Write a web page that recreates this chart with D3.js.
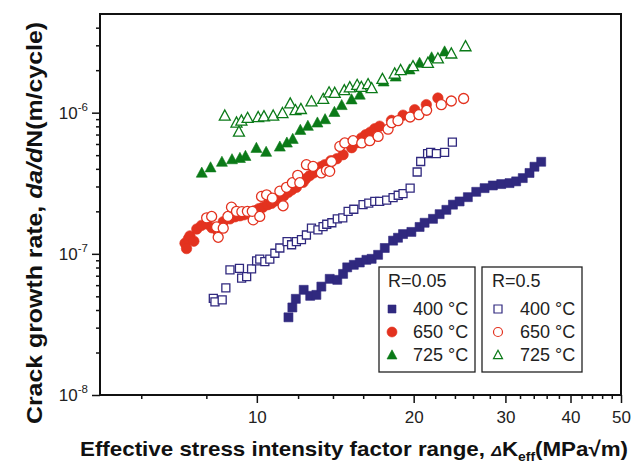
<!DOCTYPE html>
<html>
<head>
<meta charset="utf-8">
<script src="https://cdn.jsdelivr.net/npm/d3@7"></script>
<style>
  body { margin: 0; background: #fff; }
  svg { display: block; font-family: "Liberation Sans", Arial, sans-serif; }
</style>
</head>
<body>
<div id="chart"></div>
<script>
// tick values
const xTickMajor = [10, 20, 30, 40, 50];
const xTickMinor = [6, 8, 12, 14, 16, 18, 22, 24, 26, 28, 32, 34, 36, 38, 42, 44, 46, 48];
const yTickMajor = [1e-8, 1e-7, 1e-6];
const yTickExp = ['-8', '-7', '-6'];
const yTickMinor = [2e-8, 3e-8, 4e-8, 5e-8, 6e-8, 7e-8, 8e-8, 9e-8,
  2e-7, 3e-7, 4e-7, 5e-7, 6e-7, 7e-7, 8e-7, 9e-7, 2e-6, 3e-6, 4e-6];

// [dK_eff (MPa sqrt m), da/dN (m/cycle)]
// R = 0.05
const r005_400 = [[11.50,3.55e-8],[11.70,4.17e-8],[11.88,4.80e-8],[12.30,5.56e-8],[12.66,5.04e-8],[13.01,5.12e-8],
  [13.30,5.86e-8],[13.80,6.65e-8],[14.27,6.54e-8],[14.64,7.21e-8],[14.91,8.02e-8],[15.35,8.36e-8],[15.76,8.68e-8],
  [16.23,9.07e-8],[16.61,9.22e-8],[17.09,9.84e-8],[17.60,1.10e-7],[18.26,1.24e-7],[18.66,1.30e-7],[19.08,1.38e-7],
  [19.80,1.43e-7],[20.53,1.55e-7],[20.99,1.66e-7],[21.78,1.77e-7],[22.43,1.91e-7],[23.11,2.05e-7],[23.79,2.23e-7],
  [24.50,2.35e-7],[25.41,2.52e-7],[26.37,2.75e-7],[27.36,2.92e-7],[28.38,3.05e-7],[29.45,3.12e-7],[30.55,3.17e-7],
  [31.46,3.26e-7],[32.39,3.44e-7],[33.37,3.74e-7],[34.11,4.14e-7],[35.14,4.49e-7]];
const r005_650 = [[7.28,1.19e-7],[7.33,1.09e-7],[7.39,1.28e-7],[7.44,1.34e-7],[7.57,1.23e-7],[7.67,1.50e-7],[7.83,1.59e-7],
  [8.01,1.63e-7],[8.20,1.53e-7],[8.38,1.48e-7],[8.62,1.69e-7],[8.88,1.77e-7],[9.08,1.83e-7],[9.28,1.86e-7],[9.44,1.89e-7],
  [9.61,1.92e-7],[9.91,2.02e-7],[10.09,2.09e-7],[10.27,2.14e-7],[10.50,2.23e-7],[10.68,2.28e-7],[10.88,2.38e-7],
  [11.07,2.46e-7],[11.27,2.58e-7],[11.49,2.73e-7],[11.67,2.84e-7],[11.91,2.96e-7],[12.27,3.21e-7],[12.41,3.40e-7],
  [12.63,3.58e-7],[12.86,3.75e-7],[13.09,3.94e-7],[13.27,4.14e-7],[13.50,4.28e-7],[13.87,4.57e-7],[14.24,4.72e-7],
  [14.64,5.04e-7],[15.21,5.65e-7],[15.55,6.13e-7],[15.88,6.62e-7],[16.18,6.98e-7],[16.51,7.27e-7],[16.84,7.70e-7],
  [17.21,8.02e-7],[18.13,8.82e-7],[19.08,9.60e-7],[20.09,1.05e-6],[21.15,1.14e-6],[22.26,1.27e-6]];
const r005_725 = [[7.84,3.75e-7],[8.15,4.09e-7],[8.57,4.48e-7],[8.96,4.67e-7],[9.28,4.77e-7],[9.51,4.93e-7],[9.98,5.62e-7],
  [10.42,5.27e-7],[11.07,5.74e-7],[11.42,6.13e-7],[11.72,6.51e-7],[12.12,7.54e-7],[12.53,8.05e-7],[13.07,8.50e-7],
  [13.52,8.97e-7],[14.09,1.01e-6],[14.55,1.13e-6],[15.20,1.24e-6],[15.76,1.34e-6],[17.51,1.66e-6],[18.47,1.80e-6],
  [19.64,2.02e-6],[20.53,2.25e-6],[21.65,2.46e-6],[22.93,2.71e-6]];
// R = 0.5
const r05_400 = [[8.25,4.84e-8],[8.31,4.57e-8],[8.58,4.72e-8],[8.72,5.74e-8],[8.88,7.70e-8],[9.26,7.89e-8],[9.35,6.73e-8],
  [9.56,6.90e-8],[9.77,7.83e-8],[9.99,8.92e-8],[10.13,9.17e-8],[10.36,8.82e-8],[10.59,9.17e-8],[10.83,1.01e-7],
  [11.07,1.10e-7],[11.43,1.22e-7],[11.66,1.16e-7],[11.91,1.22e-7],[12.18,1.26e-7],[12.45,1.36e-7],[12.73,1.52e-7],
  [13.10,1.48e-7],[13.40,1.56e-7],[13.62,1.62e-7],[13.93,1.66e-7],[14.27,1.77e-7],[14.62,1.80e-7],[14.97,2.00e-7],
  [15.35,2.07e-7],[15.99,2.23e-7],[16.40,2.29e-7],[16.84,2.35e-7],[17.21,2.35e-7],[17.75,2.40e-7],[18.26,2.50e-7],
  [18.68,2.60e-7],[19.08,2.67e-7],[19.69,2.92e-7],[20.31,3.80e-7],[20.63,4.51e-7],[21.27,5.12e-7],[21.56,5.23e-7],
  [22.11,5.12e-7],[22.93,5.23e-7],[23.73,6.18e-7]];
const r05_650 = [[8.01,1.80e-7],[8.19,1.84e-7],[8.37,1.55e-7],[8.43,1.31e-7],[8.62,1.52e-7],[8.80,1.84e-7],[8.94,2.14e-7],
  [9.14,2.00e-7],[9.36,1.99e-7],[9.59,2.00e-7],[9.84,1.74e-7],[9.80,2.00e-7],[10.13,1.84e-7],[10.21,2.55e-7],
  [10.44,2.62e-7],[10.71,2.48e-7],[11.07,2.78e-7],[11.23,2.19e-7],[11.40,2.96e-7],[11.70,3.19e-7],[11.98,3.60e-7],
  [12.09,3.19e-7],[12.45,4.28e-7],[12.82,4.16e-7],[13.30,3.74e-7],[13.60,3.91e-7],[13.91,4.51e-7],[13.80,3.84e-7],
  [14.43,5.77e-7],[14.75,6.10e-7],[15.30,6.33e-7],[15.90,6.10e-7],[16.47,6.33e-7],[17.09,6.79e-7],[17.86,7.64e-7],
  [18.15,8.50e-7],[18.66,8.78e-7],[19.69,9.32e-7],[20.47,9.68e-7],[21.18,1.04e-6],[22.60,1.14e-6],[23.62,1.21e-6],
  [24.94,1.26e-6]];
const r05_725 = [[8.68,9.52e-7],[9.14,8.50e-7],[9.24,7.33e-7],[9.34,8.78e-7],[9.60,9.17e-7],[10.06,9.29e-7],[10.32,9.41e-7],
  [10.75,9.52e-7],[11.20,9.92e-7],[11.59,1.16e-6],[11.86,1.04e-6],[12.15,1.06e-6],[12.73,1.20e-6],[13.41,1.25e-6],
  [13.76,1.39e-6],[14.11,1.38e-6],[14.72,1.44e-6],[15.08,1.51e-6],[15.58,1.57e-6],[15.87,1.52e-6],[16.35,1.59e-6],
  [16.61,1.49e-6],[17.42,1.73e-6],[18.39,1.89e-6],[18.88,2.00e-6],[19.94,2.13e-6],[21.30,2.25e-6],[22.26,2.42e-6],
  [23.62,2.62e-6],[25.15,2.95e-6]];

const legendTemps = ['400', '650', '725'];
const legendTitles = ['R=0.05', 'R=0.5'];

const BLUE = '#30297f', RED = '#e3321f', GREEN = '#0b7a18';

const width = 642, height = 469;
const margin = { top: 14, right: 21, bottom: 74, left: 100 };

const svg = d3.select('#chart').append('svg')
  .attr('width', width).attr('height', height);

const x = d3.scaleLog().domain([5, 50]).range([margin.left, width - margin.right]);
const y = d3.scaleLog().domain([1e-8, 5e-6]).range([height - margin.bottom, margin.top]);

// shape paths, centred on 0,0
const shapes = {
  square: s => `M${-s/2},${-s/2}h${s}v${s}h${-s}Z`,
  triangle: s => `M0,${-s*0.52}L${s/2},${s*0.4}L${-s/2},${s*0.4}Z`,
  circle: s => `M${s/2},0A${s/2},${s/2} 0 1,1 ${-s/2},0A${s/2},${s/2} 0 1,1 ${s/2},0Z`
};

const series = [
  { data: r005_400, shape: 'square', size: 9, color: BLUE, filled: true },
  { data: r005_650, shape: 'circle', size: 10.5, color: RED, filled: true },
  { data: r005_725, shape: 'triangle', size: 11, color: GREEN, filled: true },
  { data: r05_400, shape: 'square', size: 8, color: BLUE, filled: false },
  { data: r05_650, shape: 'circle', size: 10, color: RED, filled: false },
  { data: r05_725, shape: 'triangle', size: 11, color: GREEN, filled: false }
];

series.forEach(s => {
  svg.append('g').selectAll('path')
    .data(s.data)
    .enter().append('path')
    .attr('transform', d => `translate(${x(d[0])},${y(d[1])})`)
    .attr('d', shapes[s.shape](s.size))
    .attr('fill', s.filled ? s.color : '#fff')
    .attr('stroke', s.color)
    .attr('stroke-width', s.filled ? 0.6 : 1.3);
});

// axes
const gx = svg.append('g').attr('transform', `translate(0,${height - margin.bottom})`);
gx.call(d3.axisBottom(x).tickValues(xTickMajor).tickSize(8).tickPadding(8).tickFormat(d3.format('d')));
gx.append('g').call(d3.axisBottom(x).tickValues(xTickMinor).tickSize(4).tickFormat(''));

const gy = svg.append('g').attr('transform', `translate(${margin.left},0)`);
gy.call(d3.axisLeft(y).tickValues(yTickMajor).tickSize(8).tickFormat(''));
gy.append('g').call(d3.axisLeft(y).tickValues(yTickMinor).tickSize(4).tickFormat(''));

svg.selectAll('.domain').remove();
svg.selectAll('.tick line').attr('stroke', '#111').attr('stroke-width', 1.5);
gx.selectAll('.tick text').attr('font-size', 17).attr('fill', '#222')
  .attr('font-family', '"Liberation Sans", Arial, sans-serif');

// y tick labels: 10^n
yTickMajor.forEach((v, i) => {
  const t = svg.append('text')
    .attr('x', margin.left - 12).attr('y', y(v) + 6)
    .attr('text-anchor', 'end').attr('font-size', 17).attr('fill', '#222');
  t.append('tspan').text('10');
  t.append('tspan').attr('dy', -8).attr('font-size', 11.5).text(yTickExp[i]);
});

// frame
svg.append('rect')
  .attr('x', margin.left).attr('y', margin.top)
  .attr('width', width - margin.left - margin.right)
  .attr('height', height - margin.top - margin.bottom)
  .attr('fill', 'none').attr('stroke', '#111').attr('stroke-width', 2);

// axis titles
const xt = svg.append('text')
  .attr('x', 80).attr('y', 456)
  .attr('textLength', 548).attr('lengthAdjust', 'spacingAndGlyphs')
  .attr('font-size', 21).attr('font-weight', 'bold').attr('fill', '#111');
xt.append('tspan').text('Effective stress intensity factor range, ');
xt.append('tspan').attr('font-style', 'italic').attr('font-size', 15).text('Δ');
xt.append('tspan').text('K');
xt.append('tspan').attr('font-size', 13).attr('dy', 5).text('eff');
xt.append('tspan').attr('dy', -5).text('(MPa√m)');

const yt = svg.append('text')
  .attr('transform', 'translate(42,424) rotate(-90)')
  .attr('textLength', 402).attr('lengthAdjust', 'spacingAndGlyphs')
  .attr('font-size', 22).attr('font-weight', 'bold').attr('fill', '#111');
yt.append('tspan').text('Crack growth rate, ');
yt.append('tspan').attr('font-style', 'italic').text('da/d');
yt.append('tspan').text('N(m/cycle)');

// legends
const legendSeries = [series.slice(0, 3), series.slice(3)];
const legendX = [379, 482];
const legendW = [96, 100];
legendSeries.forEach((grp, gi) => {
  const g = svg.append('g').attr('transform', `translate(${legendX[gi]},267)`);
  g.append('rect').attr('width', legendW[gi]).attr('height', 105)
    .attr('fill', '#fff').attr('stroke', '#222').attr('stroke-width', 1.3);
  g.append('text').attr('x', gi === 0 ? 9 : 10).attr('y', 20)
    .attr('font-size', 18).attr('fill', '#222').text(legendTitles[gi]);
  grp.forEach((s, i) => {
    const cy = 42 + i * 23;
    g.append('path')
      .attr('transform', `translate(${gi === 0 ? 13 : 16},${cy})`)
      .attr('d', shapes[s.shape](s.shape === 'square' ? 8 : (s.filled ? 10 : 9)))
      .attr('fill', s.filled ? s.color : '#fff')
      .attr('stroke', s.color).attr('stroke-width', s.filled ? 0.6 : 1.2);
    g.append('text').attr('x', gi === 0 ? 34 : 38).attr('y', cy + 6)
      .attr('font-size', 18).attr('fill', '#222').text(legendTemps[i] + ' °C');
  });
});
</script>
</body>
</html>
